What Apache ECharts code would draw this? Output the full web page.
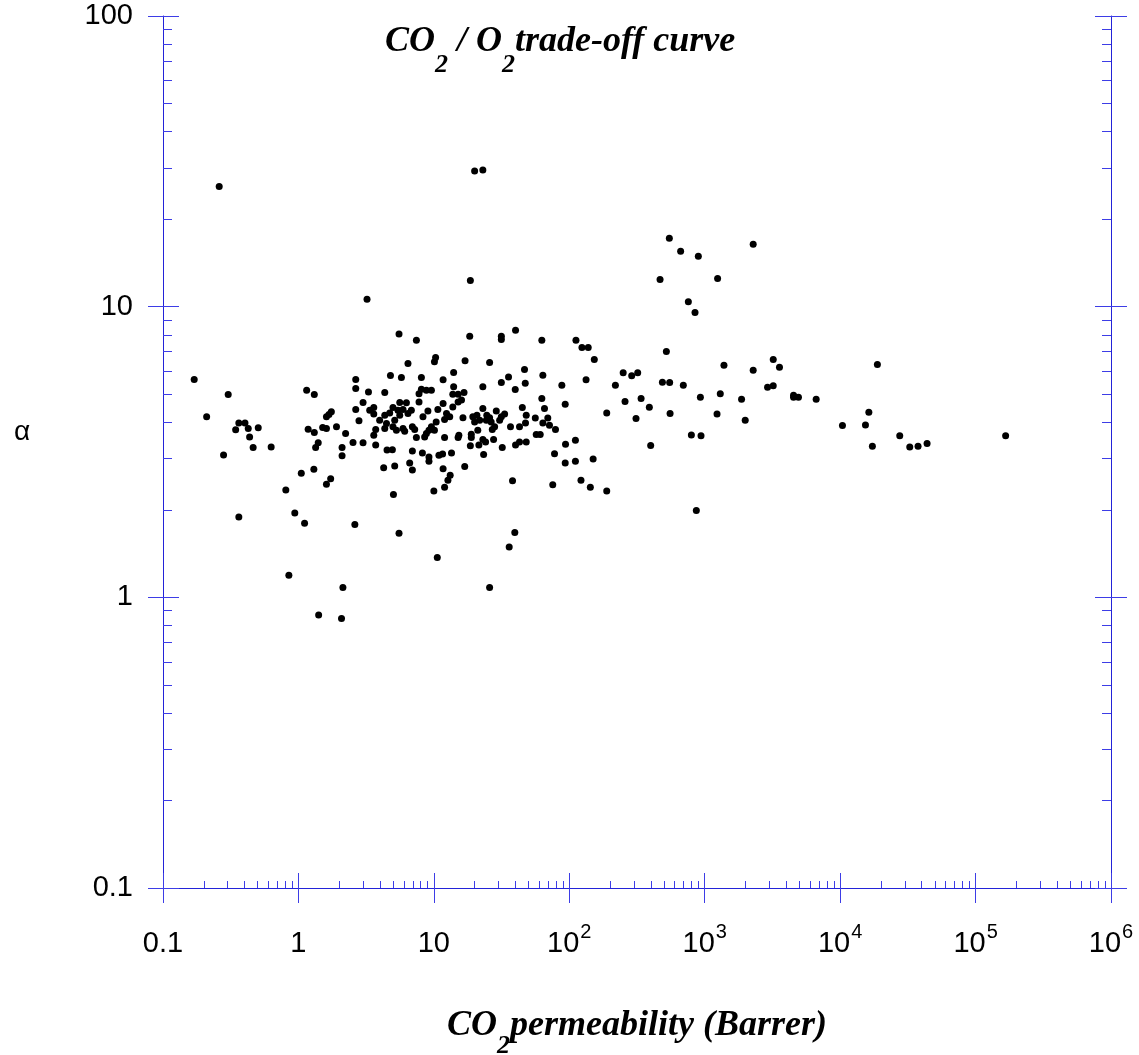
<!DOCTYPE html>
<html>
<head>
<meta charset="utf-8">
<title>CO2 / O2 trade-off curve</title>
<script src="https://cdn.jsdelivr.net/npm/echarts@6/dist/echarts.min.js"></script>
<style>
  html, body { margin: 0; padding: 0; background: #fff; }
  #chart { width: 1139px; height: 1055px; }
</style>
</head>
<body>
<div id="chart"></div>
<script>
// CO2 permeability (Barrer)
const permeability = [
  0.170, 0.303, 0.210, 0.363, 0.403, 0.344, 0.426, 0.505, 0.436, 0.463, 0.629, 0.280, 0.363,
  5.53, 4.78, 2.65, 2.65, 1.15, 1.31, 3.29, 4.34, 3.00, 1.75, 1.68, 1.61, 2.65, 3.60, 3.36, 3.60,
  4.99, 4.72, 5.43, 4.34, 3.98, 2.80, 4.47, 5.14, 4.34, 4.99, 5.29, 3.72, 3.60, 1.91, 1.51, 1.61,
  1.18, 1.31, 2.23, 1.40, 1.34, 2.10, 2.53, 3.00, 3.72, 4.51, 4.94, 2.10, 1.30, 4.26, 5.14,
  7.43, 18.4, 6.44, 10.1, 10.3, 17.0, 25.8, 5.76, 8.09, 11.7, 14.0, 14.0, 23.0, 8.09, 8.81, 9.59,
  7.77, 13.8, 15.1, 16.7, 16.0, 15.1, 11.7, 13.8, 7.77, 5.60, 6.27, 10.7, 9.04, 6.82, 5.92, 6.44,
  5.60, 8.31, 12.4, 13.1, 12.0, 16.4, 19.4, 20.8, 23.0, 24.6, 25.8, 28.9, 24.4, 26.5, 21.8, 20.0,
  28.1, 27.0, 10.4, 9.59, 9.20, 8.81, 8.55, 6.94, 7.22, 5.92, 6.09, 7.43, 10.1, 12.0, 15.3, 15.1,
  18.9, 18.9, 18.6, 21.5, 21.1, 23.0, 24.1, 27.6, 6.94, 8.23, 9.20, 9.20, 10.9, 11.6, 13.5, 23.3,
  6.63, 6.94, 11.7, 16.9,
  40.1, 31.5, 31.5, 62.7, 112, 124, 138, 153, 46.7, 63.8, 35.6, 31.5, 47.3, 39.9, 88.1, 133,
  62.7, 93.3, 45.0, 65.6, 33.3, 31.5, 30.6, 48.1, 56.1, 69.4, 47.5, 63.8, 71.4, 36.8, 42.9, 79.1,
  57.0, 61.0, 32.0, 40.1, 42.9, 48.1, 111, 93.8, 77.8, 93.3, 111, 150,
  1.05, 0.807, 1.61, 1.73, 5.03, 10.0, 12.0, 12.7, 13.2, 38.1, 75.5, 122, 143, 0.94, 1.11, 2.61,
  5.53, 39.6, 36.0, 10.6, 0.850, 2.13, 25.8, 1.41, 2.08,
  548, 664, 897, 2280, 468, 1245, 757, 848, 521, 3206, 3565, 1387, 2280, 18840, 250, 289,
  320, 219, 487, 551, 695, 2911, 3206, 258, 339, 390, 929, 1303, 1871, 4529, 4529, 4922,
  6653, 189, 311, 555, 1233, 1991, 10400, 16290, 15380, 797, 939, 399, 17300, 27550, 32660, 37610,
  43850, 166700, 189, 867,
  0.260, 20.0, 23.0, 18.6, 3.21
];

// CO2/O2 selectivity, same order
const alpha = [
  5.62, 4.99, 4.18, 3.98, 3.98, 3.77, 3.81, 3.83, 3.56, 3.28, 3.29, 3.09, 1.89,
  8.06, 5.80, 5.62, 5.23, 5.16, 4.99, 5.09, 5.07, 4.68, 4.35, 4.26, 4.18, 4.43, 4.50, 4.40, 4.27,
  4.50, 4.31, 4.40, 4.23, 4.07, 4.05, 3.96, 4.07, 3.81, 3.86, 3.76, 3.78, 3.61, 3.86, 3.84, 3.81,
  3.79, 3.69, 3.66, 3.40, 3.28, 3.28, 3.41, 3.40, 3.34, 3.21, 3.22, 3.07, 2.76, 2.79, 2.83,
  7.67, 7.91, 6.37, 6.46, 6.68, 6.51, 6.43, 5.71, 5.71, 5.61, 5.94, 5.30, 5.30, 5.20, 5.16, 5.16,
  5.02, 5.00, 5.00, 5.07, 4.77, 4.70, 4.64, 4.52, 4.70, 4.68, 4.67, 4.43, 4.38, 4.40, 4.43, 4.29,
  4.23, 4.18, 4.29, 4.18, 4.09, 4.15, 4.18, 4.23, 4.46, 4.23, 4.15, 4.38, 4.07, 4.01, 4.07, 4.01,
  3.86, 3.78, 4.01, 3.86, 3.76, 3.66, 3.56, 3.86, 3.78, 3.81, 3.73, 3.55, 3.76, 3.55, 3.61, 3.55,
  3.64, 3.55, 3.32, 3.34, 3.76, 3.49, 3.42, 3.49, 3.19, 3.14, 3.04, 2.94, 3.08, 3.11, 3.14, 3.10,
  2.90, 2.74, 2.77, 2.82,
  8.30, 7.91, 7.71, 7.67, 7.67, 7.24, 7.24, 6.58, 6.08, 5.81, 5.73, 5.48, 5.45, 5.19, 5.37, 5.61,
  4.83, 4.62, 4.50, 4.46, 4.27, 4.18, 4.07, 4.23, 4.14, 4.14, 3.98, 3.98, 3.91, 3.86, 3.86, 3.78,
  3.63, 3.63, 3.28, 3.34, 3.42, 3.42, 3.47, 3.36, 3.12, 2.90, 2.94, 2.99,
  2.67, 2.34, 2.45, 2.56, 2.26, 2.32, 2.39, 2.53, 2.63, 2.52, 2.44, 2.53, 2.39, 1.95, 1.80, 1.78,
  1.66, 1.67, 1.49, 1.37, 1.19, 1.08, 1.08, 0.869, 0.845,
  17.2, 15.5, 14.9, 16.4, 12.4, 12.5, 10.4, 9.55, 7.01, 6.58, 6.19, 6.29, 6.04, 6.32, 5.92, 5.78,
  5.92, 5.37, 5.50, 5.48, 5.37, 5.28, 5.34, 4.72, 4.83, 4.51, 4.88, 5.02, 4.80, 4.96, 4.88, 4.88,
  4.80, 4.31, 4.12, 4.29, 4.27, 4.07, 3.90, 4.33, 3.92, 3.62, 3.60, 3.33, 3.31, 3.60, 3.29, 3.31,
  3.38, 3.60, 2.32, 1.99,
  25.9, 29.3, 29.5, 12.3, 10.6
];

// tick positions
const xDecades = [0.1, 1, 10, 100, 1000, 10000, 100000, 1000000];
const yDecades = [0.1, 1, 10, 100];

function minorValues(decades) {
  const out = [];
  for (let i = 0; i < decades.length - 1; i++) {
    for (let m = 2; m <= 9; m++) out.push(+(decades[i] * m).toPrecision(6));
  }
  return out;
}
const xMinor = minorValues(xDecades);
const yMinor = minorValues(yDecades);

const lineBlue = '#2323d8';
const tickBlue = '#3d3de6';
const sans = 'Liberation Sans, Arial, sans-serif';
const serif = 'Liberation Serif, Times New Roman, serif';

function plainLabel(v) {
  if (v < 0.5) return '0.1';
  return String(Math.round(v));
}

function xLabel(v) {
  if (v < 50) return '{n|' + plainLabel(v) + '}';
  return '{n|10}{sup|' + Math.round(Math.log10(v)) + '}';
}

// overlay axis that only draws ticks (no line, no labels)
function tickLayer(position, values, inside, length, min, max) {
  return {
    type: 'log', logBase: 10, min: min, max: max,
    position: position,
    axisLine: {show: false, onZero: false},
    axisTick: {show: true, inside: inside, length: length, customValues: values,
      lineStyle: {color: tickBlue, width: 1}},
    axisLabel: {show: false},
    splitLine: {show: false},
    minorTick: {show: false}
  };
}

const boldItalic = {fontFamily: serif, fontWeight: 'bold', fontStyle: 'italic', color: '#000'};
const titleRich = {
  b: Object.assign({fontSize: 36, lineHeight: 40, verticalAlign: 'top'}, boldItalic),
  s: Object.assign({fontSize: 26, lineHeight: 26, verticalAlign: 'top', padding: [28, 0, 0, 0]}, boldItalic)
};
const nameRich = {
  b: titleRich.b,
  s: Object.assign({fontSize: 26, lineHeight: 26, verticalAlign: 'top', padding: [25, 0, 0, 0]}, boldItalic)
};

const chart = echarts.init(document.getElementById('chart'));

const option = {
  animation: false,
  backgroundColor: '#fff',
  title: {
    left: 380,
    top: 19,
    text: '{b|CO}{s|2}{b| / O}{s|2}{b|trade-off curve}',
    textStyle: {rich: titleRich}
  },
  graphic: [
    {
      type: 'text',
      left: 14,
      top: 418,
      style: {text: 'α', font: '28px Liberation Sans', fill: '#000'}
    }
  ],
  grid: {left: 163, right: 28, top: 16, bottom: 167, containLabel: false, outerBoundsMode: 'none'},
  xAxis: [
    {
      type: 'log', logBase: 10, min: 0.1, max: 1000000,
      position: 'bottom',
      name: '{b|CO}{s|2}{b|permeability (Barrer)}',
      nameLocation: 'middle',
      nameGap: 120,
      nameTextStyle: {rich: nameRich},
      axisLine: {show: true, onZero: false, lineStyle: {color: lineBlue, width: 1}},
      axisTick: {show: true, inside: false, length: 15, customValues: xDecades,
        lineStyle: {color: tickBlue, width: 1}},
      axisLabel: {
        customValues: xDecades,
        margin: 31,
        formatter: xLabel,
        rich: {
          n: {fontFamily: sans, fontSize: 29, color: '#000', lineHeight: 34,
            verticalAlign: 'top', padding: [10, 0, 0, 0]},
          sup: {fontFamily: sans, fontSize: 20, color: '#000', lineHeight: 20,
            verticalAlign: 'top', padding: [3, 0, 0, 1]}
        }
      },
      splitLine: {show: false},
      minorTick: {show: false}
    },
    tickLayer('bottom', xDecades, true, 15, 0.1, 1000000),
    tickLayer('bottom', xMinor, true, 7, 0.1, 1000000)
  ],
  yAxis: [
    {
      type: 'log', logBase: 10, min: 0.1, max: 100,
      position: 'left',
      axisLine: {show: true, onZero: false, lineStyle: {color: lineBlue, width: 1}},
      axisTick: {show: true, inside: false, length: 15, customValues: yDecades,
        lineStyle: {color: tickBlue, width: 1}},
      axisLabel: {
        customValues: yDecades,
        margin: 30,
        formatter: plainLabel,
        fontFamily: sans, fontSize: 29, color: '#000',
        padding: [5, 0, 0, 0]
      },
      splitLine: {show: false},
      minorTick: {show: false}
    },
    tickLayer('left', yDecades, true, 16, 0.1, 100),
    tickLayer('left', yMinor, true, 9, 0.1, 100),
    Object.assign(tickLayer('right', yDecades, false, 16, 0.1, 100),
      {axisLine: {show: true, onZero: false, lineStyle: {color: lineBlue, width: 1}}}),
    tickLayer('right', yDecades, true, 16, 0.1, 100),
    tickLayer('right', yMinor, true, 9, 0.1, 100)
  ],
  series: [
    {
      name: 'polymers',
      type: 'scatter',
      xAxisIndex: 0,
      yAxisIndex: 0,
      symbol: 'circle',
      symbolSize: 7,
      itemStyle: {color: '#000', opacity: 1},
      data: permeability.map((p, i) => [p, alpha[i]])
    }
  ]
};

chart.setOption(option);
</script>
</body>
</html>
